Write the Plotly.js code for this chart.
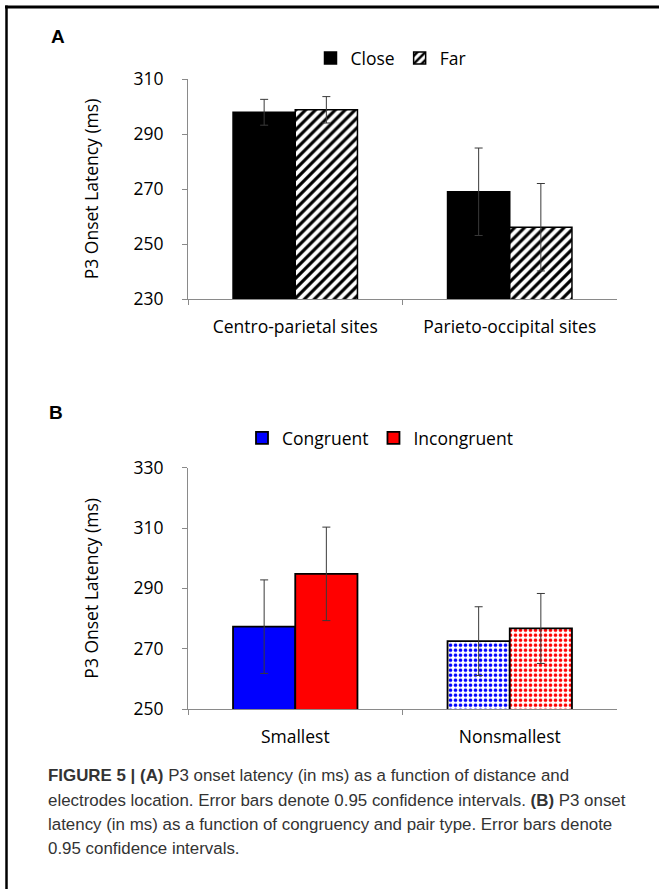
<!DOCTYPE html>
<html>
<head>
<meta charset="utf-8">
<script src="https://cdn.plot.ly/plotly-3.0.1.min.js"></script>
<style>
  html, body { margin: 0; padding: 0; background: #fff; }
  #chart { width: 659px; height: 889px; }
</style>
</head>
<body>
<div id="chart"></div>
<script>
// ---- Data ----
// Panel A
const sitesA = ["Centro-parietal sites", "Parieto-occipital sites"];
const closeMean = [297.9, 269.0];
const closeCI = [4.7, 15.9];
const farMean = [298.8, 256.1];
const farCI = [4.8, 15.9];

// Panel B
const pairTypes = ["Smallest", "Nonsmallest"];
const congruentMean = [277.3, 272.5];
const congruentCI = [15.5, 11.4];
const incongruentMean = [294.8, 276.7];
const incongruentCI = [15.5, 11.6];

const yTicksA = [230, 250, 270, 290, 310];
const yTicksB = [250, 270, 290, 310, 330];

const captionLines = [
  "<b>FIGURE 5 | (A)</b> P3 onset latency (in ms) as a function of distance and",
  "electrodes location. Error bars denote 0.95 confidence intervals. <b>(B)</b> P3 onset",
  "latency (in ms) as a function of congruency and pair type. Error bars denote",
  "0.95 confidence intervals."
];

// ---- Styling helpers ----
const W = 659, H = 889;
const px = v => v / W;          // x pixel -> paper
const py = v => (H - v) / H;    // y pixel (from top) -> paper

const chartFont = "Open Sans, Lato, sans-serif";
const fs = 17.5;
const errStyle = { type: "data", visible: true, thickness: 1, width: 4, color: "#3a3a3a" };

const traces = [
  {
    type: "bar", name: "Close", x: sitesA, y: closeMean,
    xaxis: "x", yaxis: "y", legend: "legend",
    marker: { color: "#000000", line: { color: "#000000", width: 1.5 } },
    error_y: Object.assign({ array: closeCI }, errStyle)
  },
  {
    type: "bar", name: "Far", x: sitesA, y: farMean,
    xaxis: "x", yaxis: "y", legend: "legend",
    marker: {
      color: "#ffffff",
      line: { color: "#000000", width: 1.5 },
      pattern: { shape: "/", fgcolor: "#000000", bgcolor: "#ffffff", size: 7, solidity: 0.45 }
    },
    error_y: Object.assign({ array: farCI }, errStyle)
  },
  {
    type: "bar", name: "Congruent", x: pairTypes, y: congruentMean,
    xaxis: "x2", yaxis: "y2", legend: "legend2",
    marker: {
      color: "#0000ff",
      line: { color: "#000000", width: 1.8 },
      pattern: { shape: ["", "."], fgcolor: "#0000ff", bgcolor: "#ffffff", fillmode: "replace", size: 5, solidity: 0.42 }
    },
    error_y: Object.assign({ array: congruentCI }, errStyle)
  },
  {
    type: "bar", name: "Incongruent", x: pairTypes, y: incongruentMean,
    xaxis: "x2", yaxis: "y2", legend: "legend2",
    marker: {
      color: "#ff0000",
      line: { color: "#000000", width: 1.8 },
      pattern: { shape: ["", "."], fgcolor: "#ff0000", bgcolor: "#ffffff", fillmode: "replace", size: 5, solidity: 0.42 }
    },
    error_y: Object.assign({ array: incongruentCI }, errStyle)
  }
];

function xAxis(anchor) {
  return {
    anchor: anchor,
    domain: [px(188), px(617)],
    showline: true, linecolor: "#8a8a8a", linewidth: 1,
    ticks: "outside", tickson: "boundaries", ticklen: 5, tickcolor: "#8a8a8a",
    ticklabelstandoff: 12,
    tickfont: { family: chartFont, size: fs, color: "#000" },
    showgrid: false, zeroline: false, fixedrange: true
  };
}
function yAxis(anchor, domain, range, ticks) {
  return {
    anchor: anchor,
    domain: domain,
    range: range,
    tickvals: ticks,
    showline: true, linecolor: "#8a8a8a", linewidth: 1,
    ticks: "outside", ticklen: 5, tickcolor: "#8a8a8a",
    ticklabelstandoff: 15,
    tickfont: { family: chartFont, size: fs, color: "#000" },
    title: { text: "P3 Onset Latency (ms)", font: { family: chartFont, size: fs, color: "#000" }, standoff: 30 },
    showgrid: false, zeroline: false, fixedrange: true
  };
}

const annotations = [
  { text: "<b>A</b>", x: px(49), y: py(37), xref: "paper", yref: "paper", xanchor: "left", yanchor: "middle",
    showarrow: false, font: { family: "Liberation Sans, Arial, sans-serif", size: 19, color: "#000" } },
  { text: "<b>B</b>", x: px(47), y: py(413), xref: "paper", yref: "paper", xanchor: "left", yanchor: "middle",
    showarrow: false, font: { family: "Liberation Sans, Arial, sans-serif", size: 19, color: "#000" } }
];
const captionY = [775, 800, 824, 848];
captionLines.forEach((t, i) => {
  annotations.push({
    text: t, x: px(46), y: py(captionY[i]), xref: "paper", yref: "paper",
    xanchor: "left", yanchor: "middle", align: "left", showarrow: false,
    font: { family: "Liberation Sans, Arial, sans-serif", size: 16.9, color: "#333" }
  });
});

const layout = {
  width: W, height: H,
  margin: { l: 0, r: 0, t: 0, b: 0 },
  paper_bgcolor: "#ffffff", plot_bgcolor: "#ffffff",
  barmode: "group", bargap: 0.42, bargroupgap: 0,
  showlegend: true,
  legend: {
    orientation: "h", x: px(391), y: py(58), xanchor: "center", yanchor: "middle",
    font: { family: chartFont, size: fs, color: "#000" }, itemwidth: 30, tracegroupgap: 0,
    bgcolor: "rgba(0,0,0,0)"
  },
  legend2: {
    orientation: "h", x: px(380), y: py(438), xanchor: "center", yanchor: "middle",
    font: { family: chartFont, size: fs, color: "#000" }, itemwidth: 30, tracegroupgap: 0,
    bgcolor: "rgba(0,0,0,0)"
  },
  xaxis: xAxis("y"),
  yaxis: yAxis("x", [py(299), py(79)], [230, 310], yTicksA),
  xaxis2: xAxis("y2"),
  yaxis2: yAxis("x2", [py(709), py(467.7)], [250, 330], yTicksB),
  annotations: annotations,
  shapes: [
    { type: "line", xref: "paper", yref: "paper", x0: px(5), x1: 1, y0: py(7), y1: py(7),
      line: { color: "#000", width: 3 } },
    { type: "line", xref: "paper", yref: "paper", x0: px(6.5), x1: px(6.5), y0: py(5.5), y1: 0,
      line: { color: "#000", width: 2.5 } }
  ]
};

Plotly.newPlot("chart", traces, layout, { displayModeBar: false, staticPlot: true });
</script>
</body>
</html>
